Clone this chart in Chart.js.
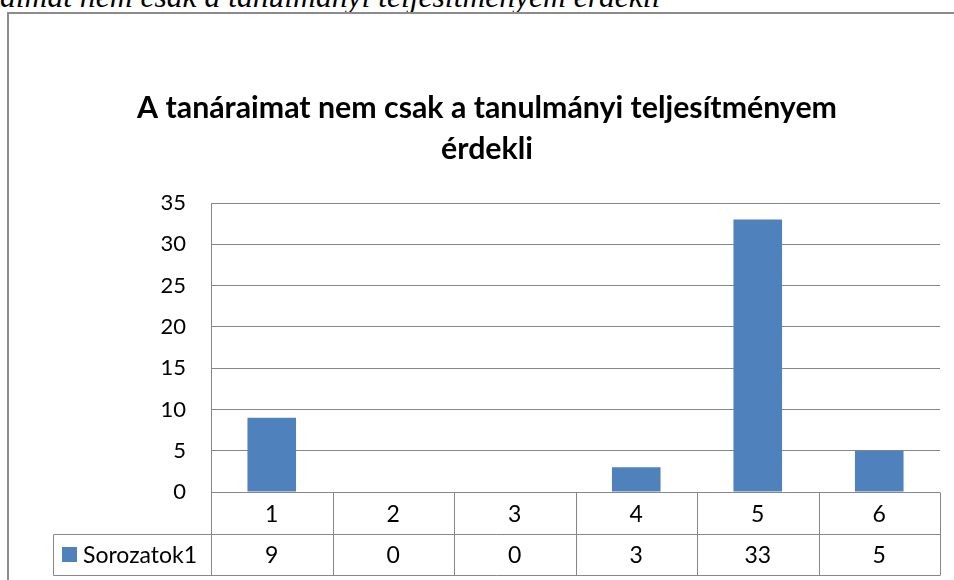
<!DOCTYPE html>
<html><head><meta charset="utf-8">
<script src="https://cdn.jsdelivr.net/npm/chart.js@4/dist/chart.umd.min.js"></script>
<style>
html,body{margin:0;padding:0;background:#fff;width:954px;height:580px;overflow:hidden;}
body{position:relative;}
#cap{position:absolute;left:0;top:-19px;font:italic 31.6px "Liberation Serif";line-height:32px;white-space:nowrap;color:#000;}
#frame{position:absolute;left:7px;top:12px;width:1200px;height:800px;border:2px solid #8c8c8c;}
#wrap{position:absolute;left:0;top:0;width:954px;height:580px;}
</style></head>
<body>
<div id="cap">aimat nem csak a tanulmányi teljesítményem érdekli</div>
<div id="frame"></div>
<div id="wrap"><canvas id="c" width="954" height="580"></canvas></div>
<script>
const categories = ['1', '2', '3', '4', '5', '6'];
const seriesName = 'Sorozatok1';
const values = [9, 0, 0, 3, 33, 5];
const yMin = 0, yMax = 35, yStep = 5;
const titleLines = ['A tanáraimat nem csak a tanulmányi teljesítményem', 'érdekli'];

const LINE = '#878787';
const BAR = '#4f81bd';
const FONT = 'Lato';

const titlePlugin = {
  id: 'titleText',
  afterDraw(chart) {
    const ctx = chart.ctx;
    ctx.save();
    ctx.fillStyle = '#000';
    ctx.textAlign = 'center';
    ctx.textBaseline = 'alphabetic';
    ctx.font = 'bold 24px ' + FONT;
    const w = ctx.measureText(titleLines[0]).width;
    const fs = 24 * 700 / w;
    ctx.font = 'bold ' + fs.toFixed(2) + 'px ' + FONT;
    ctx.fillText(titleLines[0], 487, 118);
    ctx.fillText(titleLines[1], 487, 159);
    ctx.restore();
  }
};

const tablePlugin = {
  id: 'dataTable',
  afterDraw(chart) {
    const ctx = chart.ctx, xs = chart.scales.x, a = chart.chartArea;
    const colW = xs.getPixelForValue(1) - xs.getPixelForValue(0);
    const rowH = 41.5;
    const top = Math.round(a.bottom) + 0.5;
    const r1 = Math.round(a.bottom + rowH) + 0.5;
    const r2 = Math.round(a.bottom + 2 * rowH) + 0.5;
    const legendLeft = 53.5;
    ctx.save();
    ctx.strokeStyle = LINE;
    ctx.lineWidth = 1;
    ctx.beginPath();
    ctx.moveTo(a.left, top); ctx.lineTo(a.right, top);
    ctx.moveTo(legendLeft, r1); ctx.lineTo(a.right, r1);
    ctx.moveTo(legendLeft, r2); ctx.lineTo(a.right, r2);
    ctx.moveTo(legendLeft, r1); ctx.lineTo(legendLeft, r2);
    for (let i = 0; i <= categories.length; i++) {
      const x = Math.round(xs.getPixelForValue(i) - colW / 2) + 0.5;
      ctx.moveTo(x, top); ctx.lineTo(x, r2);
    }
    ctx.stroke();
    ctx.fillStyle = '#000';
    ctx.font = '23px ' + FONT;
    ctx.textAlign = 'center';
    ctx.textBaseline = 'middle';
    categories.forEach((c, i) => {
      const x = xs.getPixelForValue(i);
      ctx.fillText(c, x, (top + r1) / 2 + 1);
      ctx.fillText(String(values[i]), x, (r1 + r2) / 2 + 1);
    });
    ctx.fillStyle = BAR;
    ctx.fillRect(62, 547, 15, 15);
    ctx.fillStyle = '#000';
    ctx.textAlign = 'left';
    ctx.fillText(seriesName, 83, (r1 + r2) / 2 + 1);
    ctx.restore();
  }
};

new Chart(document.getElementById('c'), {
  type: 'bar',
  data: {
    labels: categories,
    datasets: [{ label: seriesName, data: values, backgroundColor: BAR, borderWidth: 0,
      categoryPercentage: 1, barPercentage: 0.4 }]
  },
  options: {
    responsive: false,
    animation: false,
    devicePixelRatio: 1,
    layout: { padding: { left: 131, right: 14, top: 203, bottom: 88 } },
    plugins: { legend: { display: false }, title: { display: false }, tooltip: { enabled: false } },
    scales: {
      x: { display: false },
      y: {
        min: yMin, max: yMax,
        afterFit(s) { s.width = 80; },
        ticks: { stepSize: yStep, color: '#000', padding: 25, font: { family: FONT, size: 22 } },
        grid: { color: LINE, drawTicks: false, lineWidth: 1 },
        border: { display: true, color: LINE, width: 1 }
      }
    }
  },
  plugins: [titlePlugin, tablePlugin]
});
</script>
</body></html>
